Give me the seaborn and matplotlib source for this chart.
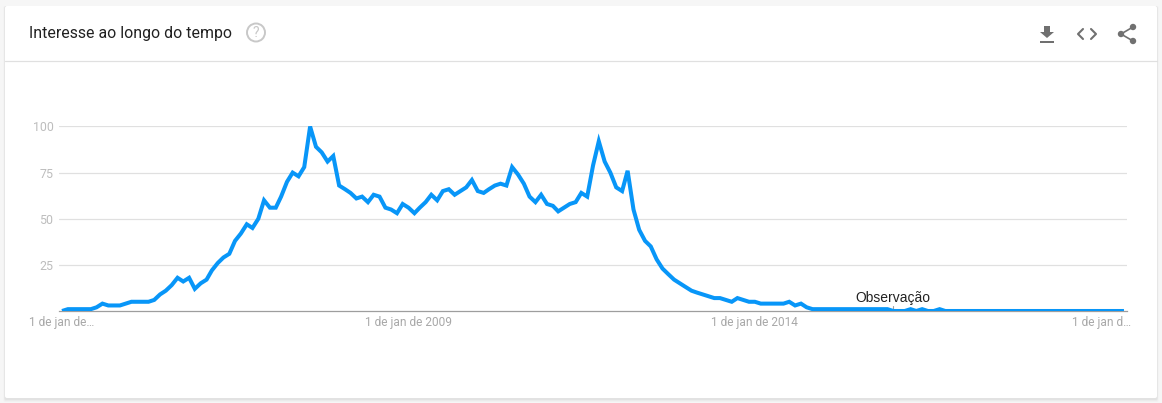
import pandas as pd
import numpy as np
import matplotlib.pyplot as plt
import matplotlib.patches as mpatches
import seaborn as sns

# monthly interest, Jan 2004 onwards
interest = [0, 1, 1, 1, 1, 1, 2, 4, 3, 3,
            3, 4, 5, 5, 5, 5, 6, 9, 11, 14,
            18, 16, 18, 12, 15, 17, 22, 26, 29, 31,
            38, 42, 47, 45, 50, 60, 56, 56, 62, 70,
            75, 73, 78, 100, 89, 86, 81, 84, 68, 66,
            64, 61, 62, 59, 63, 62, 56, 55, 53, 58,
            56, 53, 56, 59, 63, 60, 65, 66, 63, 65,
            67, 71, 65, 64, 66, 68, 69, 68, 78, 74,
            69, 62, 59, 63, 58, 57, 54, 56, 58, 59,
            64, 62, 79, 92, 81, 75, 67, 65, 76, 55,
            44, 38, 35, 28, 23, 20, 17, 15, 13, 11,
            10, 9, 8, 7, 7, 6, 5, 7, 6, 5,
            5, 4, 4, 4, 4, 4, 5, 3, 4, 2,
            1, 1, 1, 1, 1, 1, 1, 1, 1, 1,
            1, 1, 1, 1, 0, 0, 0, 1, 0, 1,
            0, 0, 1, 0, 0, 0, 0, 0, 0, 0,
            0, 0, 0, 0, 0, 0, 0, 0, 0, 0,
            0, 0, 0, 0, 0, 0, 0, 0, 0, 0,
            0, 0, 0, 0, 0]
months = pd.date_range('2004-01-01', periods=len(interest), freq='MS')

y_ticks = [25, 50, 75, 100]
x_ticks = ['2004-01-01', '2009-01-01', '2014-01-01', '2019-01-01']
x_labels = ['1 de jan de…', '1 de jan de 2009', '1 de jan de 2014', '1 de jan d…']
note_date = '2016-01-01'
note_text = 'Observação'
title = 'Interesse ao longo do tempo'

df = pd.DataFrame({'Month': months, 'Interest': interest})

sns.set_style('white')
plt.rcParams['font.family'] = ['Roboto', 'DejaVu Sans']

W, H = 1162, 403
fig = plt.figure(figsize=(W / 100, H / 100), dpi=100, facecolor='#f6f6f6')

# card and header, in pixel coordinates
bg = fig.add_axes([0, 0, 1, 1], zorder=0)
bg.set_xlim(0, W)
bg.set_ylim(H, 0)
bg.axis('off')
for grow, col in [(3, '#f1f1f1'), (2, '#ebebeb'), (1, '#e2e2e2')]:
    bg.add_patch(mpatches.FancyBboxPatch((7 - grow / 2, 8), 1148 + grow, 389 + grow, boxstyle='round,pad=2', fc=col, ec='none'))
bg.add_patch(mpatches.FancyBboxPatch((7, 8), 1148, 388, boxstyle='round,pad=2', fc='white', ec='none'))
bg.plot([5, 1157], [61, 61], color='#e0e0e0', lw=0.9)
bg.text(29, 33.5, title, fontsize=11.4, color='#212121', va='center')

# help icon
bg.add_patch(mpatches.Circle((256, 32.5), 9, fc='none', ec='#c8c8c8', lw=1.4))
bg.text(256, 33, '?', fontsize=10, color='#c8c8c8', ha='center', va='center')

# download, embed and share icons
ic = '#707070'
bg.add_patch(mpatches.Polygon([(1044, 26), (1050, 26), (1050, 32), (1054, 32), (1047, 38), (1040, 32), (1044, 32)], fc=ic, ec='none'))
bg.add_patch(mpatches.Rectangle((1040, 41), 14, 2, fc=ic, ec='none'))
bg.plot([1083, 1078, 1083], [29, 34, 39], color=ic, lw=1.5)
bg.plot([1091, 1096, 1091], [29, 34, 39], color=ic, lw=1.5)
bg.plot([1133, 1121, 1133], [27, 34, 41], color=ic, lw=1.2)
for cx, cy in [(1133, 27), (1121, 34), (1133, 41)]:
    bg.add_patch(mpatches.Circle((cx, cy), 3.2, fc=ic, ec='none'))

# chart
ax = fig.add_axes([59 / W, 1 - 311 / H, (1127 - 59) / W, (311 - 126.5) / H], zorder=1)
ax.patch.set_alpha(0)
ax.axvline(pd.Timestamp(note_date), ymin=0, ymax=0.025, color='#9e9e9e', lw=0.8)
sns.lineplot(data=df, x='Month', y='Interest', ax=ax, color='#0896f8', lw=2.9, zorder=3,
             solid_capstyle='butt', solid_joinstyle='miter')

ax.set_xlim(pd.Timestamp('2003-12-16'), pd.Timestamp('2019-05-17'))
ax.set_ylim(0, 100)
ax.set_yticks(y_ticks)
ax.set_xticks(pd.to_datetime(x_ticks))
ax.set_xticklabels(x_labels)
ax.set_xlabel('')
ax.set_ylabel('')
ax.grid(axis='y', color='#e0e0e0', lw=0.9)
ax.set_axisbelow(True)
ax.tick_params(axis='x', length=0, pad=3.3, labelsize=8.6, labelcolor='#a8a8a8')
ax.tick_params(axis='y', length=0, pad=4, labelsize=8.9, labelcolor='#bdbdbd')
for s in ['top', 'left', 'right']:
    ax.spines[s].set_visible(False)
ax.spines['bottom'].set_color('#9e9e9e')
ax.spines['bottom'].set_linewidth(0.9)
ax.spines['bottom'].set_zorder(2)

ax.annotate(note_text, (pd.Timestamp(note_date), 0), xytext=(0, 4.5), textcoords='offset points',
            ha='center', va='bottom', fontsize=10, color='#222222', family='Liberation Sans')

fig.savefig('out.png', dpi=100, facecolor=fig.get_facecolor())
